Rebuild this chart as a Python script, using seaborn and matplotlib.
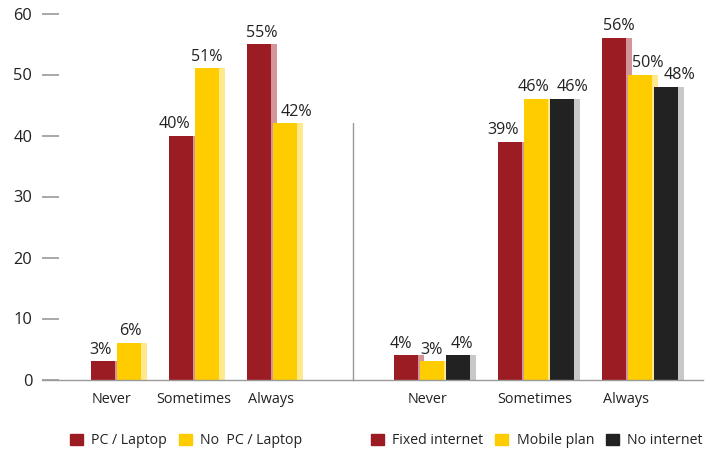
import pandas as pd
import matplotlib.pyplot as plt
import seaborn as sns
from matplotlib.patches import Patch, Rectangle
from matplotlib.colors import to_hex
from matplotlib.transforms import ScaledTranslation

sns.set_theme(style="white")
plt.rcParams["font.family"] = ["Open Sans", "DejaVu Sans"]
plt.rcParams["font.size"] = 10.4

# data
responses = ["Never", "Sometimes", "Always"]

device_groups = ["PC / Laptop", "No  PC / Laptop"]
pc_laptop = [3, 40, 55]
no_pc_laptop = [6, 51, 42]

conn_groups = ["Fixed internet", "Mobile plan", "No internet"]
fixed_internet = [4, 39, 56]
mobile_plan = [3, 46, 50]
no_internet = [4, 46, 48]

RED = "#9b1c23"
YELLOW = "#ffcc00"
BLACK = "#222222"
GRID = "#9a9a9a"
TEXT = "#222222"
# lighter strip drawn on the right side of every bar
SHADE = {to_hex(RED): "#d4959a", to_hex(YELLOW): "#ffe98c", to_hex(BLACK): "#c8c8c8"}

# horizontal nudges (in points) of the value labels, per series, as in the original
nudge_dev = [[-2, -5, 2], [1, 0, 8]]
nudge_conn = [[-4, -5, 4], [0, -2, 6], [3, 8, 10]]
# horizontal nudges (in px) of the category labels
tick_nudge_dev = [-5, 0, -1]
tick_nudge_conn = [-4, -1, -14]

df_dev = pd.DataFrame({
    "response": responses * 2,
    "group": [device_groups[0]] * 3 + [device_groups[1]] * 3,
    "pct": pc_laptop + no_pc_laptop,
})
df_conn = pd.DataFrame({
    "response": responses * 3,
    "group": [conn_groups[0]] * 3 + [conn_groups[1]] * 3 + [conn_groups[2]] * 3,
    "pct": fixed_internet + mobile_plan + no_internet,
})

W, H = 709, 454
fig = plt.figure(figsize=(W / 100, H / 100), dpi=100)
bottom = 1 - 379.5 / H
height = (379.5 - 13.5) / H
ax1 = fig.add_axes([42 / W, bottom, (353 - 42) / W, height])
ax2 = fig.add_axes([353 / W, bottom, (703 - 353) / W, height])


def draw(ax, df, colors, width, xlim, nudges, tick_nudges):
    sns.barplot(data=df, x="response", y="pct", hue="group", palette=colors,
                width=width, gap=0.08, saturation=1, legend=False,
                linewidth=0, edgecolor="none", ax=ax)
    for p in list(ax.patches):
        c = to_hex(p.get_facecolor())
        w = p.get_width()
        ax.add_patch(Rectangle((p.get_x(), 0), w * 1.25, p.get_height(),
                               facecolor=SHADE[c], edgecolor="none", zorder=0.9))
        p.set_zorder(1)
    for cont, dx in zip(ax.containers, nudges):
        for bar, n in zip(cont, dx):
            ax.annotate(f"{bar.get_height():.0f}%",
                        (bar.get_x() + bar.get_width() / 2, bar.get_height()),
                        xytext=(n, 2.5), textcoords="offset points",
                        ha="center", va="bottom", color=TEXT, fontsize=11.6)
    ax.set_xlim(*xlim)
    ax.set_ylim(0, 60)
    ax.set_xlabel("")
    ax.set_ylabel("")
    for s in ["top", "right", "left"]:
        ax.spines[s].set_visible(False)
    ax.spines["bottom"].set_color(GRID)
    ax.spines["bottom"].set_linewidth(1)
    ax.tick_params(axis="x", length=0, pad=9, labelcolor=TEXT, labelsize=10.4)
    for lab, n in zip(ax.get_xticklabels(), tick_nudges):
        lab.set_transform(lab.get_transform() + ScaledTranslation(n / 100, 0, fig.dpi_scale_trans))


draw(ax1, df_dev, [RED, YELLOW], 0.667, (-0.955, 3.04), nudge_dev, tick_nudge_dev)
draw(ax2, df_conn, [RED, YELLOW, BLACK], 0.75, (-0.76, 2.61), nudge_conn, tick_nudge_conn)

ax1.set_yticks(range(0, 61, 10))
ax1.tick_params(axis="y", left=True, direction="in", length=12.2, width=1.2,
                color=GRID, pad=7, labelcolor=TEXT, labelsize=11.8)
ax2.set_yticks([])

# divider between the two panels
ax2.axvline(ax2.get_xlim()[0], ymin=0, ymax=42 / 60, color=GRID, lw=1, clip_on=False)

# legends
leg_kw = dict(loc="center", frameon=False, handlelength=0.9, handleheight=0.9,
              handletextpad=0.6, columnspacing=0.85, fontsize=10.2, labelcolor=TEXT,
              borderaxespad=0)
fig.legend([Patch(color=c) for c in [RED, YELLOW]], device_groups, ncol=2,
           bbox_to_anchor=(186 / W, 1 - 441 / H), **leg_kw)
fig.legend([Patch(color=c) for c in [RED, YELLOW, BLACK]], conn_groups, ncol=3,
           bbox_to_anchor=(537 / W, 1 - 441 / H), **leg_kw)

fig.savefig("out.png", dpi=100)
